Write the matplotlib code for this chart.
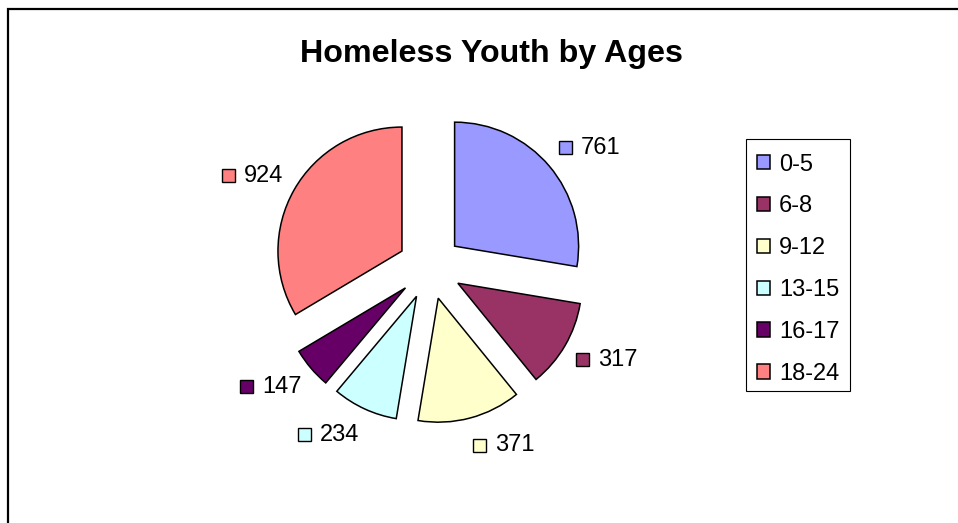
import numpy as np
import matplotlib
matplotlib.use("Agg")
import matplotlib.pyplot as plt
from matplotlib.patches import Rectangle
from matplotlib.offsetbox import AnnotationBbox, DrawingArea, TextArea, HPacker

plt.rcParams['font.family'] = ['Liberation Sans', 'DejaVu Sans']

ages = ['0-5', '6-8', '9-12', '13-15', '16-17', '18-24']
counts = [761, 317, 371, 234, 147, 924]
colors = ['#9999FF', '#993366', '#FFFFCC', '#CCFFFF', '#660066', '#FF8080']

W, H = 958, 523
fig = plt.figure(figsize=(W / 100, H / 100), dpi=100)

# outer chart frame, runs off the right and bottom edges
fig.patches.append(Rectangle((7.5 / W, -0.1), 1.2, 1.1 - 8.5 / H,
                             transform=fig.transFigure, fill=False,
                             edgecolor='black', linewidth=1.6))

fig.text(491 / W, 1 - 62 / H, 'Homeless Youth by Ages', ha='center',
         va='baseline', fontsize=23.2, fontweight='bold')

# pie centre at (430, 267) px, radius 124 px
cx, cy, r = 430, 267, 124
ax = fig.add_axes([0, 0, 1, 1])
wedges, _ = ax.pie(counts, startangle=90, counterclock=False,
                   explode=[0.26] * len(counts), colors=colors,
                   wedgeprops=dict(edgecolor='black', linewidth=1.1))
ax.set_xlim(-cx / r, (W - cx) / r)
ax.set_ylim(-(H - cy) / r, cy / r)
ax.axis('off')

# data labels: key square + value, left/right aligned like Excel
for w, val, col in zip(wedges, counts, colors):
    th = np.deg2rad((w.theta1 + w.theta2) / 2)
    da = DrawingArea(9.5, 9.5, 0, 0)
    da.add_artist(Rectangle((0, 0), 9.5, 9.5, facecolor=col,
                            edgecolor='black', linewidth=1.0))
    ta = TextArea(str(val), textprops=dict(fontsize=17))
    box = HPacker(children=[da, ta], align='center', pad=0, sep=6.5)
    halign = 0.0 if np.cos(th) > 0 else 1.0
    ab = AnnotationBbox(box, (1.36 * np.cos(th), 1.40 * np.sin(th)),
                        box_alignment=(halign, 0.5 - 0.5 * np.sin(th)),
                        frameon=False, pad=0)
    ax.add_artist(ab)

leg = fig.legend(wedges, ages, loc='upper left',
                 bbox_to_anchor=(746 / W, 1 - 143 / H), borderaxespad=0,
                 fontsize=17, handlelength=0.55, handleheight=0.55,
                 handletextpad=0.4, labelspacing=0.84, borderpad=0.45,
                 frameon=False)

# draw legend frame by hand, nudged up a bit to even out the padding
fig.canvas.draw()
bb = leg.get_window_extent()
x0, y0 = fig.transFigure.inverted().transform((bb.x0, bb.y0 + 4))
x1, y1 = fig.transFigure.inverted().transform((bb.x1, bb.y1 + 4))
fig.patches.append(Rectangle((x0, y0), x1 - x0, y1 - y0,
                             transform=fig.transFigure, fill=False,
                             edgecolor='black', linewidth=0.8))

fig.savefig('out.png', dpi=100)
